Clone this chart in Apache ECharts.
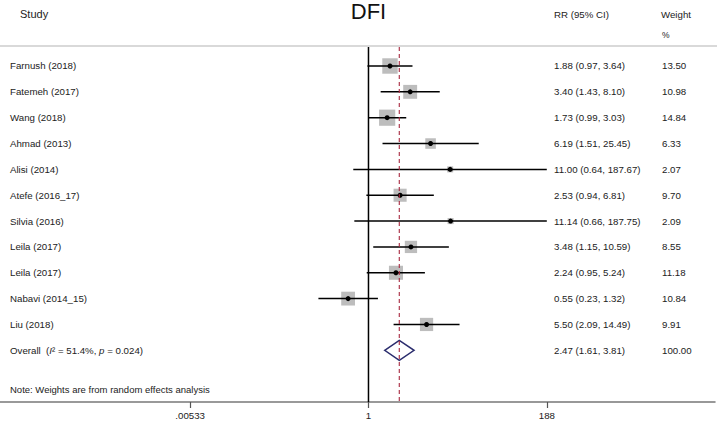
<!DOCTYPE html>
<html>
<head>
<meta charset="utf-8">
<script src="https://cdn.jsdelivr.net/npm/echarts@6/dist/echarts.min.js"></script>
<style>html,body{margin:0;padding:0;background:#fff}#c{width:717px;height:421px}</style>
</head>
<body>
<div id="c"></div>
<script>
const studies = ['Farnush (2018)','Fatemeh (2017)','Wang (2018)','Ahmad (2013)','Alisi (2014)','Atefe (2016_17)','Silvia (2016)','Leila (2017)','Leila (2017)','Nabavi (2014_15)','Liu (2018)'];
const rr = [1.88,3.40,1.73,6.19,11.00,2.53,11.14,3.48,2.24,0.55,5.50];
const lo = [0.97,1.43,0.99,1.51,0.64,0.94,0.66,1.15,0.95,0.23,2.09];
const hi = [3.64,8.10,3.03,25.45,187.67,6.81,187.75,10.59,5.24,1.32,14.49];
const weights = [13.50,10.98,14.84,6.33,2.07,9.70,2.09,8.55,11.18,10.84,9.91];
const overallRR = 2.47, overallLo = 1.61, overallHi = 3.81, overallWeight = 100.00;
const nullValue = 1;
const tickValues = [0.00533, 1, 188];
const tickLabels = ['.00533', '1', '188'];

const L = Math.log10;
const FONT = '"Liberation Sans", Arial, Helvetica, sans-serif';
const TXT = '#222';
const fmt = v => v.toFixed(2);

const studyData = studies.map((s, i) => [L(rr[i]), i, L(lo[i]), L(hi[i]), weights[i]]);
const nRows = studies.length;
const Y_MIN = -0.735, Y_MAX = 13;

const chart = echarts.init(document.getElementById('c'), null, {renderer: 'svg'});

function textEl(x, y, text, extra) {
  return {type: 'text', x: x, y: y, style: Object.assign({text: text, fill: TXT, font: '9.7px ' + FONT, verticalAlign: 'middle', align: 'left'}, extra || {})};
}

chart.setOption({
  animation: false,
  grid: {left: 0, right: 2, top: 47, bottom: 19},
  xAxis: {
    type: 'value', min: -4.698, max: 4.418,
    axisLine: {show: true, onZero: false, lineStyle: {color: '#777', width: 1.5}},
    splitLine: {show: false},
    axisTick: {show: true, length: 6, lineStyle: {color: '#555', width: 1.2}, customValues: tickValues.map(L)},
    axisLabel: {
      show: true, margin: 8, color: TXT, fontFamily: FONT, fontSize: 9.7,
      customValues: tickValues.map(L),
      formatter: v => { let k = 0, best = 1e9; tickValues.forEach((t, j) => { const d = Math.abs(L(t) - v); if (d < best) { best = d; k = j; } }); return tickLabels[k]; }
    }
  },
  yAxis: {type: 'value', min: Y_MIN, max: Y_MAX, inverse: true, show: false},
  series: [
    {
      type: 'custom',
      data: studyData,
      clip: false,
      z: 5,
      renderItem: function (params, api) {
        const i = params.dataIndex;
        const c = api.coord([api.value(0), api.value(1)]);
        const xl = api.coord([api.value(2), api.value(1)])[0];
        const xh = api.coord([api.value(3), api.value(1)])[0];
        const s = 4.2 * Math.sqrt(api.value(4));
        const y = c[1];
        return {type: 'group', children: [
          {type: 'rect', shape: {x: c[0] - s / 2, y: y - s / 2, width: s, height: s}, style: {fill: '#bdbdbd'}},
          {type: 'line', shape: {x1: xl, y1: y, x2: xh, y2: y}, style: {stroke: '#000', lineWidth: 1.5}},
          {type: 'circle', shape: {cx: c[0], cy: y, r: 2.5}, style: {fill: '#000'}},
          textEl(10, y, studies[i]),
          textEl(554, y, fmt(rr[i]) + ' (' + fmt(lo[i]) + ', ' + fmt(hi[i]) + ')'),
          textEl(662, y, fmt(weights[i]))
        ]};
      }
    },
    {
      type: 'custom',
      data: [[L(overallRR), nRows, L(overallLo), L(overallHi), overallWeight]],
      clip: false,
      z: 6,
      renderItem: function (params, api) {
        const c = api.coord([api.value(0), api.value(1)]);
        const xl = api.coord([api.value(2), api.value(1)])[0];
        const xh = api.coord([api.value(3), api.value(1)])[0];
        const y = c[1], h = 10;
        return {type: 'group', children: [
          {type: 'polygon', shape: {points: [[xl, y], [c[0], y - h], [xh, y], [c[0], y + h]]}, style: {fill: 'rgba(255,255,255,0)', stroke: '#2b2d6e', lineWidth: 1.5}},
          {type: 'text', x: 10, y: y, style: {
            text: '{n|Overall  (}{i|I}{n|² = 51.4%, }{i|p}{n| = 0.024)}',
            verticalAlign: 'middle', align: 'left',
            rich: {
              n: {fill: TXT, font: '9.7px ' + FONT},
              i: {fill: TXT, font: 'italic 9.7px ' + FONT}
            }
          }},
          textEl(554, y, fmt(overallRR) + ' (' + fmt(overallLo) + ', ' + fmt(overallHi) + ')'),
          textEl(662, y, fmt(api.value(4)))
        ]};
      }
    },
    {
      type: 'custom',
      data: [[L(nullValue), L(overallRR)]],
      clip: false,
      z: 8,
      renderItem: function (params, api) {
        const top = api.coord([api.value(0), Y_MIN]);
        const bot = api.coord([api.value(0), Y_MAX]);
        const xd = api.coord([api.value(1), Y_MIN])[0];
        return {type: 'group', children: [
          {type: 'line', shape: {x1: top[0], y1: top[1], x2: bot[0], y2: bot[1]}, style: {stroke: '#000', lineWidth: 1.5}},
          {type: 'line', shape: {x1: xd, y1: top[1], x2: xd, y2: bot[1]}, style: {stroke: '#a8283f', lineWidth: 1.1, lineDash: [4, 3]}}
        ]};
      }
    }
  ],
  graphic: [
    {type: 'line', shape: {x1: 0, y1: 46, x2: 717, y2: 46}, style: {stroke: '#d9d9d9', lineWidth: 2}, z: 10},
    {type: 'text', x: 20, y: 14, style: {text: 'Study', fill: TXT, font: '11px ' + FONT, verticalAlign: 'middle'}},
    {type: 'text', x: 368.5, y: 11, style: {text: 'DFI', fill: '#111', font: '22px ' + FONT, verticalAlign: 'middle', align: 'center'}},
    {type: 'text', x: 554, y: 14, style: {text: 'RR (95% CI)', fill: TXT, font: '9.7px ' + FONT, verticalAlign: 'middle'}},
    {type: 'text', x: 661, y: 14, style: {text: 'Weight', fill: TXT, font: '9.7px ' + FONT, verticalAlign: 'middle'}},
    {type: 'text', x: 662, y: 35, style: {text: '%', fill: TXT, font: '8.5px ' + FONT, verticalAlign: 'middle'}},
    {type: 'text', x: 10, y: 389, style: {text: 'Note: Weights are from random effects analysis', fill: TXT, font: '9.5px ' + FONT, verticalAlign: 'middle'}}
  ]
});
</script>
</body>
</html>
